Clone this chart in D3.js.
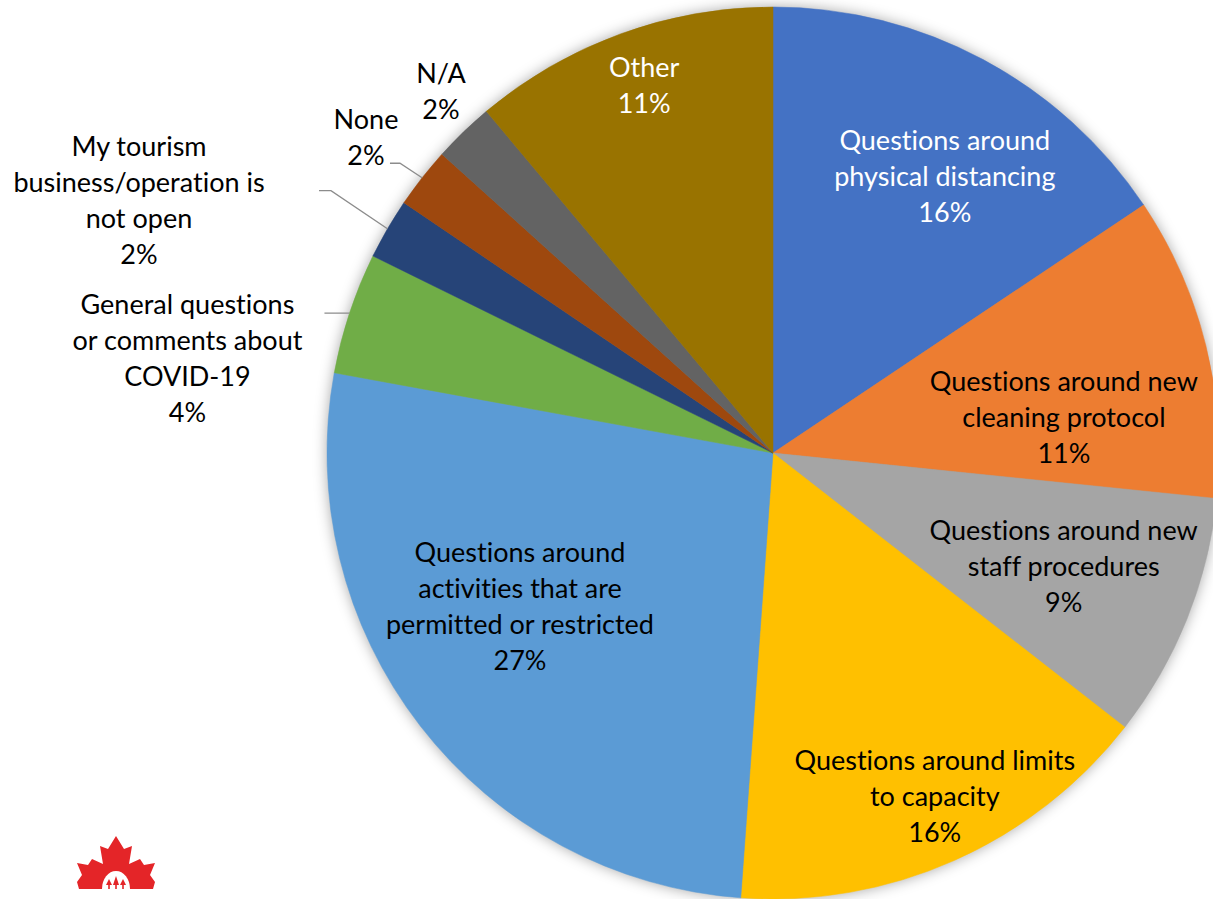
<!DOCTYPE html>
<html>
<head>
<meta charset="utf-8">
<script src="https://cdn.jsdelivr.net/npm/d3@7"></script>
<style>
  html, body { margin: 0; padding: 0; background: #fff; }
  svg { display: block; font-family: Lato, "Open Sans", sans-serif; font-variant-ligatures: none; }
</style>
</head>
<body>
<div id="chart"></div>
<script>
// slice data, clockwise from 12 o'clock
const categories = [
  "Questions around\nphysical distancing",
  "Questions around new\ncleaning protocol",
  "Questions around new\nstaff procedures",
  "Questions around limits\nto capacity",
  "Questions around\nactivities that are\npermitted or restricted",
  "General questions\nor comments about\nCOVID-19",
  "My tourism\nbusiness/operation is\nnot open",
  "None",
  "N/A",
  "Other"
];
const shares = [15.6, 11.0, 8.9, 15.6, 26.7, 4.4, 2.2, 2.2, 2.2, 11.1];
const shareLabels = ["16%", "11%", "9%", "16%", "27%", "4%", "2%", "2%", "2%", "11%"];
const colors = ["#4472C4", "#ED7D31", "#A5A5A5", "#FFC000", "#5B9BD5",
                "#70AD47", "#264478", "#9E480E", "#636363", "#997300"];

// label placement: polar angle (deg from north), distance as fraction of radius
const labelLayout = [
  { ang: 31.9,  dist: 0.729, fill: "#fff" },
  { ang: 83.1,  dist: 0.657, fill: "#000" },
  { ang: 111.4, dist: 0.700, fill: "#000" },
  { ang: 154.8, dist: 0.852, fill: "#000" },
  { ang: 238.7, dist: 0.664, fill: "#000" },
  { ang: 279.2, dist: 1.330, fill: "#000", leader: [137, -45, 20] },
  { ang: 291.7, dist: 1.530, fill: "#000", leader: [180, -10, 12] },
  { ang: 307.8, dist: 1.155, fill: "#000", leader: [24, 26, 10] },
  { ang: 317.4, dist: 1.100, fill: "#000" },
  { ang: 340.7, dist: 0.874, fill: "#fff" }
];

const width = 1213, height = 899;
const cx = 773, cy = 453, radius = 446;
const lineH = 36;

const svg = d3.select("#chart").append("svg")
    .attr("width", width)
    .attr("height", height);

const defs = svg.append("defs");
const glow = defs.append("filter")
    .attr("id", "glow")
    .attr("x", "-20%").attr("y", "-20%")
    .attr("width", "140%").attr("height", "140%");
glow.append("feGaussianBlur").attr("in", "SourceAlpha").attr("stdDeviation", 7).attr("result", "b");
glow.append("feFlood").attr("flood-color", "#000").attr("flood-opacity", 0.35);
glow.append("feComposite").attr("in2", "b").attr("operator", "in");

const g = svg.append("g").attr("transform", `translate(${cx},${cy})`);

// soft shadow round the pie
g.append("circle").attr("r", radius).attr("fill", "#000").attr("filter", "url(#glow)");

const pie = d3.pie().sort(null).value(d => d);
const arc = d3.arc().innerRadius(0).outerRadius(radius);
const arcs = pie(shares);

g.selectAll("path.slice")
  .data(arcs)
  .enter()
  .append("path")
    .attr("class", "slice")
    .attr("d", arc)
    .attr("fill", (d, i) => colors[i])
    .attr("stroke", (d, i) => colors[i])
    .attr("stroke-width", 0.5);

const polar = (angDeg, r) => {
  const a = angDeg * Math.PI / 180;
  return [r * Math.sin(a), -r * Math.cos(a)];
};

// leader lines for the small outside slices
arcs.forEach((d, i) => {
  const lay = labelLayout[i];
  if (!lay.leader) return;
  const [lx, ly] = polar(lay.ang, lay.dist * radius);
  const sx = lx + lay.leader[0], sy = ly + lay.leader[1];
  const mid = (d.startAngle + d.endAngle) / 2;
  const ex = radius * Math.sin(mid), ey = -radius * Math.cos(mid);
  g.append("path")
    .attr("d", `M${sx},${sy}L${sx + lay.leader[2]},${sy}L${ex},${ey}`)
    .attr("fill", "none")
    .attr("stroke", "#8c8c8c")
    .attr("stroke-width", 1.3);
});

// labels
arcs.forEach((d, i) => {
  const lay = labelLayout[i];
  const [lx, ly] = polar(lay.ang, lay.dist * radius);
  const lines = categories[i].split("\n").concat([shareLabels[i]]);
  const t = g.append("text")
    .attr("text-anchor", "middle")
    .attr("font-size", 27)
    .attr("fill", lay.fill);
  lines.forEach((ln, k) => {
    t.append("tspan")
      .attr("x", lx)
      .attr("y", ly + (k - (lines.length - 1) / 2) * lineH)
      .attr("dy", "0.35em")
      .text(ln);
  });
});

// logo: red maple leaf with white sun and trees, cut by the bottom edge
const leafHalf = [[0,-53],[8,-40],[16,-43],[13,-25],[24,-30],[28,-24],[39,-26],[34,-14],[39,-7],[37,0]];
const leafPts = leafHalf.concat(leafHalf.slice().reverse().map(p => [-p[0], p[1]]));
const logo = svg.append("g").attr("transform", "translate(116,889)");
logo.append("path")
  .attr("d", d3.line()(leafPts) + "Z")
  .attr("fill", "#E42528");
logo.append("ellipse").attr("rx", 14).attr("ry", 18).attr("fill", "#fff");
[[-7, 6], [0, 9], [7, 6]].forEach(([tx, th]) => {
  logo.append("path")
    .attr("d", `M${tx},${-th - 4}L${tx + 3},${-4}L${tx - 3},${-4}Z`)
    .attr("fill", "#E42528");
  logo.append("rect").attr("x", tx - 0.8).attr("y", -4).attr("width", 1.6).attr("height", 4).attr("fill", "#E42528");
});
</script>
</body>
</html>
